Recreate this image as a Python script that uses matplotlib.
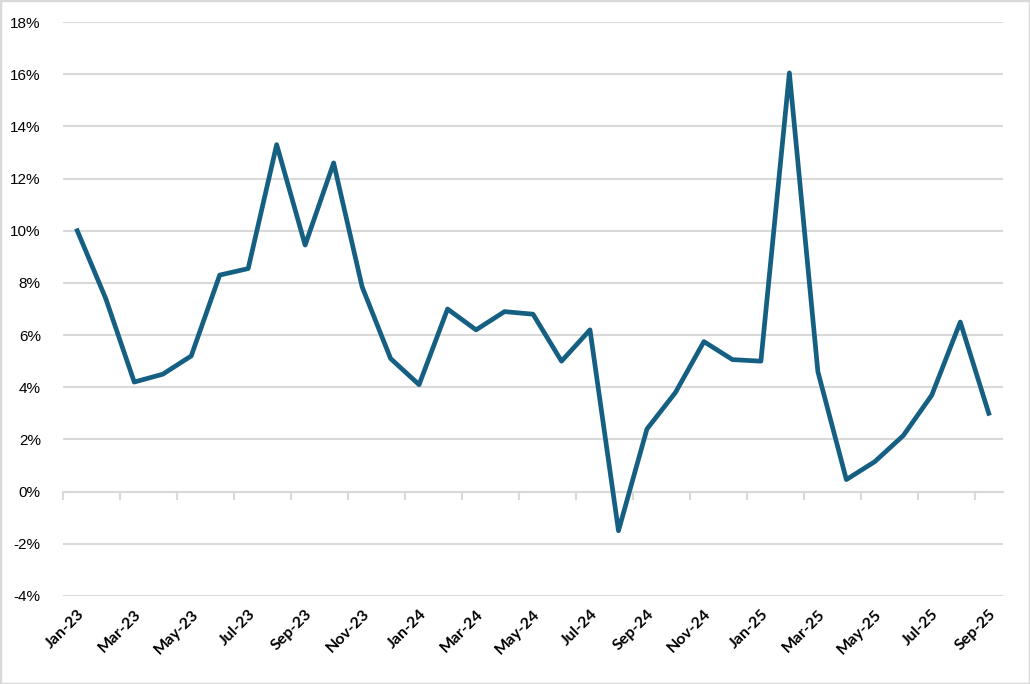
import matplotlib.pyplot as plt
from matplotlib.patches import Rectangle
from matplotlib.ticker import FuncFormatter

months = [
    "Jan-23", "Feb-23", "Mar-23", "Apr-23", "May-23", "Jun-23", "Jul-23", "Aug-23",
    "Sep-23", "Oct-23", "Nov-23", "Dec-23", "Jan-24", "Feb-24", "Mar-24", "Apr-24",
    "May-24", "Jun-24", "Jul-24", "Aug-24", "Sep-24", "Oct-24", "Nov-24", "Dec-24",
    "Jan-25", "Feb-25", "Mar-25", "Apr-25", "May-25", "Jun-25", "Jul-25", "Aug-25",
    "Sep-25",
]
values = [
    10.0, 7.4, 4.2, 4.5, 5.2, 8.3, 8.55, 13.3,
    9.45, 12.6, 7.85, 5.1, 4.1, 7.0, 6.2, 6.9,
    6.8, 5.0, 6.2, -1.5, 2.4, 3.8, 5.75, 5.06,
    5.0, 16.05, 4.6, 0.46, 1.15, 2.15, 3.7, 6.5,
    3.0,
]
y_ticks = list(range(-4, 20, 2))

fig = plt.figure(figsize=(10.3, 6.84), dpi=100)
ax = fig.add_axes([0.0612, 0.1287, 0.9126, 0.8391])

x = list(range(len(months)))
ax.plot(x, values, color="#156082", linewidth=3.4, solid_joinstyle="round", zorder=3)

ax.set_xlim(-0.5, len(months) - 0.5)
ax.set_ylim(-4, 18)
ax.set_yticks(y_ticks)
ax.yaxis.set_major_formatter(FuncFormatter(lambda v, _: f"{v:.0f}%"))
ax.grid(axis="y", color="#d9d9d9", linewidth=1.5)
ax.set_axisbelow(True)

ax.set_xticks(x[::2])
ax.set_xticklabels(months[::2], rotation=45, ha="right", rotation_mode="anchor",
                   fontsize=11.5, fontfamily="Lato", fontweight="bold")
ax.tick_params(axis="x", length=0, pad=8)
ax.tick_params(axis="y", length=0, pad=16, labelsize=11)
for lab in ax.get_yticklabels():
    lab.set_fontfamily("Liberation Sans")

for s in ax.spines.values():
    s.set_visible(False)

# category axis sits on the zero line, with marks between every other category
zero_axis = ax.secondary_xaxis(0, transform=ax.transData)
zero_axis.set_xticks([i - 0.5 for i in x[::2]])
zero_axis.tick_params(axis="x", direction="out", length=6, width=1.5,
                      color="#d9d9d9", labelbottom=False)
zero_axis.spines["bottom"].set_color("#d9d9d9")
zero_axis.spines["bottom"].set_linewidth(1.5)

fig.patches.append(Rectangle((0, 0), 1, 1, transform=fig.transFigure, fill=False,
                             edgecolor="#d9d9d9", linewidth=2.5))

fig.savefig("out.png", dpi=100)
